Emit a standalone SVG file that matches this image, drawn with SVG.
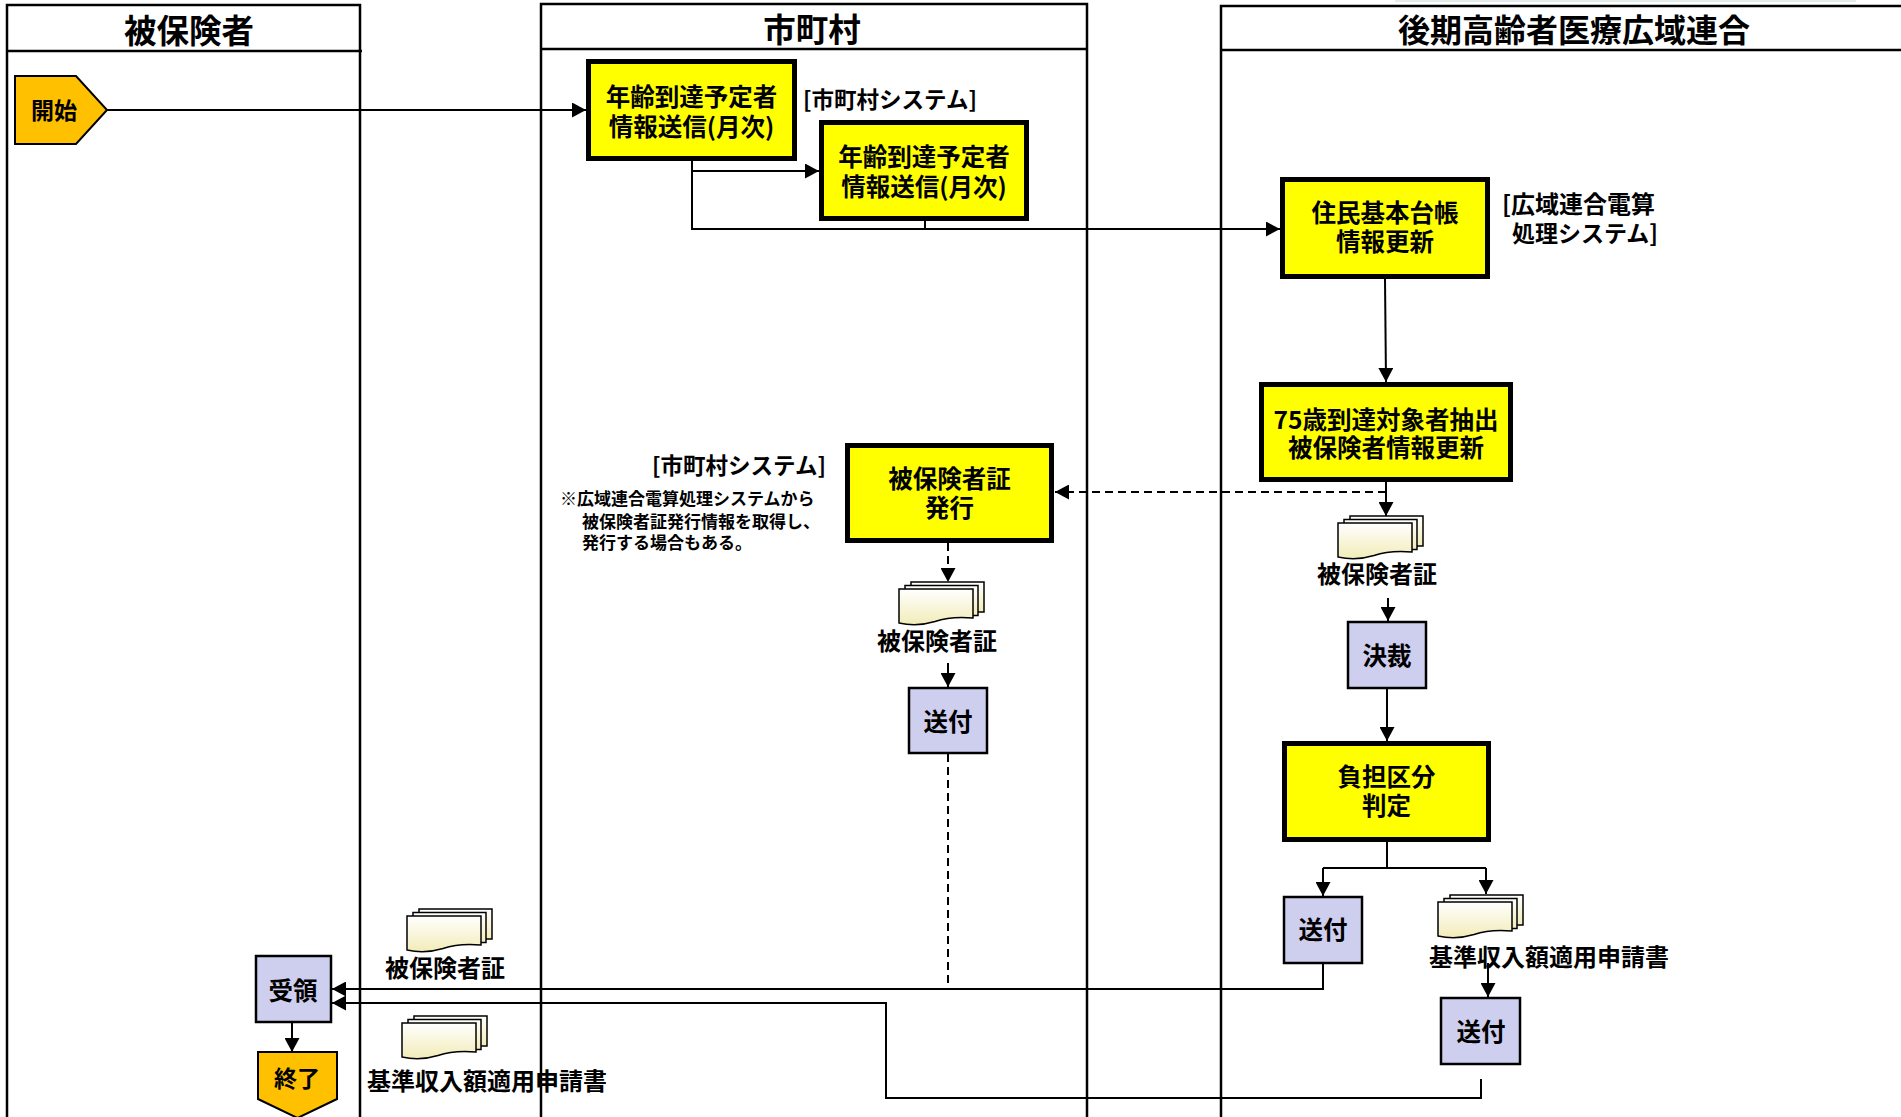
<svg xmlns="http://www.w3.org/2000/svg" width="1901" height="1117" viewBox="0 0 1901 1117">
<style>
text{font-family:"Noto Sans CJK JP","Noto Sans",sans-serif;font-weight:bold;fill:#000;dominant-baseline:central}
.hd{font-size:32.5px;text-anchor:middle}
.bt{font-size:24.5px;text-anchor:middle}
.lb{font-size:24px;text-anchor:middle}
.sys{font-size:22.5px}
.note{font-size:17px}
.lane{fill:none;stroke:#000;stroke-width:2.5}
.yb{fill:#FFFF00;stroke:#000;stroke-width:5}
.pb{fill:#CECEEE;stroke:#000;stroke-width:2.5}
.term{fill:#FFC000;stroke:#000;stroke-width:2}
.c{fill:none;stroke:#000;stroke-width:2}
.d{stroke-dasharray:8 5}
.pg{fill:url(#dg);stroke:#000;stroke-width:1.5}
</style>
<defs>
<marker id="ar" markerUnits="userSpaceOnUse" markerWidth="15" markerHeight="15" refX="14" refY="7.5" orient="auto">
<path d="M0,0 L14,7.5 L0,15 Z" fill="#000"/>
</marker>
<linearGradient id="dg" x1="0" y1="0" x2="0" y2="1">
<stop offset="0" stop-color="#FFFFFF"/>
<stop offset="1" stop-color="#F2ECB8"/>
</linearGradient>
<g id="doc">
<rect class="pg" x="12" y="0" width="73" height="30"/>
<rect class="pg" x="6" y="3.5" width="73" height="30"/>
<path class="pg" d="M0,7 H74 V36 Q52,34 36,39.5 Q18,45 0,41 Z"/>
</g>
</defs>
<rect width="1901" height="1117" fill="#fff"/>

<g id="lanes">
<path class="lane" d="M7,1117 V5 H360 V1117 M7,51 H362"/>
<path class="lane" d="M541,1117 V4 H1087 V1117 M541,49 H1087"/>
<path class="lane" d="M1221,1117 V6 H1901 M1221,50 H1901"/>
<line x1="1395" y1="1" x2="1856" y2="1" stroke="#dde6e6" stroke-width="1.5"/>
<text class="hd" x="189" y="28">被保険者</text>
<text class="hd" x="812" y="27">市町村</text>
<text class="hd" x="1574" y="28" style="font-size:32px">後期高齢者医療広域連合</text>
</g>

<g id="connectors">
<path class="c" d="M107,110 H586" marker-end="url(#ar)"/>
<path class="c" d="M692,161 V171 H819" marker-end="url(#ar)"/>
<path class="c" d="M692,171 V229 H1280" marker-end="url(#ar)"/>
<path class="c" d="M925,221 V229"/>
<path class="c" d="M1385,279 L1386,382" marker-end="url(#ar)"/>
<path class="c" d="M1386,482 V516" marker-end="url(#ar)"/>
<path class="c d" d="M1386,492 H1055" marker-end="url(#ar)"/>
<path class="c" d="M1388,598 V621" marker-end="url(#ar)"/>
<path class="c" d="M1387,689 V741" marker-end="url(#ar)"/>
<path class="c" d="M1387,842 V868 M1323,868 H1486"/>
<path class="c" d="M1323,868 V896" marker-end="url(#ar)"/>
<path class="c" d="M1486,868 V894" marker-end="url(#ar)"/>
<path class="c d" d="M948,543 V582" marker-end="url(#ar)"/>
<path class="c" d="M948,663 V687" marker-end="url(#ar)"/>
<path class="c d" d="M948,754 V989"/>
<path class="c" d="M1323,964 V989 H332" marker-end="url(#ar)"/>
<path class="c" d="M1488,963 V997" marker-end="url(#ar)"/>
<path class="c" d="M1481,1079 V1098 H886 V1003 H332" marker-end="url(#ar)"/>
<path class="c" d="M292,1023 V1052" marker-end="url(#ar)"/>
</g>

<g id="start">
<polygon class="term" points="15,76 76,76 107,110 76,144 15,144"/>
<text class="bt" x="54" y="109" style="font-size:23px">開始</text>
</g>

<g id="n1">
<rect class="yb" x="588.5" y="61.5" width="206" height="97"/>
<text class="bt" x="691.5" y="95.5">年齢到達予定者</text>
<text class="bt" x="691.5" y="125.5">情報送信(月次)</text>
</g>
<text id="sys1" class="sys" x="890" y="98" text-anchor="middle">[市町村システム]</text>

<g id="n2">
<rect class="yb" x="821.5" y="122.5" width="205" height="96"/>
<text class="bt" x="924" y="155.5">年齢到達予定者</text>
<text class="bt" x="924" y="185.5">情報送信(月次)</text>
</g>

<g id="n3">
<rect class="yb" x="1282.5" y="179.5" width="205" height="97"/>
<text class="bt" x="1385" y="211.5">住民基本台帳</text>
<text class="bt" x="1385" y="240.5">情報更新</text>
</g>
<g id="sys2">
<text class="sys" x="1502" y="202" style="font-size:24px">[広域連合電算</text>
<text class="sys" x="1658" y="232" text-anchor="end" style="font-size:23px">処理システム]</text>
</g>

<g id="n4">
<rect class="yb" x="1261.5" y="384.5" width="249" height="95"/>
<text class="bt" x="1386" y="418.5">75歳到達対象者抽出</text>
<text class="bt" x="1386" y="446.5">被保険者情報更新</text>
</g>

<g id="n5">
<rect class="yb" x="847.5" y="445.5" width="204" height="95"/>
<text class="bt" x="949.5" y="477.5">被保険者証</text>
<text class="bt" x="949.5" y="506.5">発行</text>
</g>
<g id="sys3">
<text class="sys" x="739" y="464" text-anchor="middle">[市町村システム]</text>
<text class="note" x="560" y="497">※広域連合電算処理システムから</text>
<text class="note" x="582" y="520">被保険者証発行情報を取得し、</text>
<text class="note" x="582" y="541">発行する場合もある。</text>
</g>

<g id="docA">
<use href="#doc" x="1338" y="516"/>
<text class="lb" x="1377" y="572">被保険者証</text>
</g>
<g id="docB">
<use href="#doc" x="899" y="582"/>
<text class="lb" x="937" y="639">被保険者証</text>
</g>

<g id="n6">
<rect class="pb" x="1348" y="622" width="78" height="66"/>
<text class="bt" x="1387" y="654.5">決裁</text>
</g>
<g id="n7">
<rect class="pb" x="909" y="688" width="78" height="65"/>
<text class="bt" x="948" y="720.5">送付</text>
</g>

<g id="n8">
<rect class="yb" x="1284.5" y="743.5" width="204" height="96"/>
<text class="bt" x="1386.5" y="775.5">負担区分</text>
<text class="bt" x="1386.5" y="804.5">判定</text>
</g>

<g id="n9">
<rect class="pb" x="1284" y="897" width="78" height="66"/>
<text class="bt" x="1323" y="928.5">送付</text>
</g>
<g id="docC">
<use href="#doc" x="1438" y="895"/>
<text class="lb" x="1549" y="955">基準収入額適用申請書</text>
</g>
<g id="n10">
<rect class="pb" x="1441" y="998" width="79" height="66"/>
<text class="bt" x="1481" y="1030.5">送付</text>
</g>

<g id="docD">
<use href="#doc" x="407" y="909"/>
<text class="lb" x="445" y="966">被保険者証</text>
</g>
<g id="docE">
<use href="#doc" x="402" y="1016"/>
<text class="lb" x="487" y="1079">基準収入額適用申請書</text>
</g>

<g id="n11">
<rect class="pb" x="256" y="956" width="75" height="66"/>
<text class="bt" x="293" y="989.5">受領</text>
</g>
<g id="end">
<polygon class="term" points="258,1052 337,1052 337,1099 297.5,1118 258,1099"/>
<text class="bt" x="297" y="1077" style="font-size:23px">終了</text>
</g>
</svg>
